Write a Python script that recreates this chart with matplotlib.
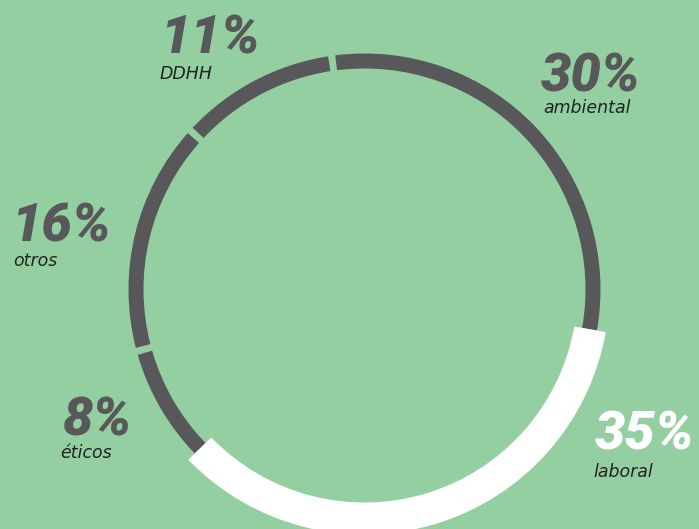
import matplotlib.pyplot as plt
from matplotlib.patches import Wedge

# Data (clockwise from the top)
labels = ['ambiental', 'laboral', 'éticos', 'otros', 'DDHH']
values = [30, 35, 8, 16, 11]
highlight = 'laboral'

# Label positions (pixels, baseline-left)
pct_pos = {'ambiental': (541, 437), 'laboral': (595, 79), 'éticos': (62, 94),
           'otros': (11, 287), 'DDHH': (160, 476)}
name_pos = {'ambiental': (543, 416), 'laboral': (593, 52), 'éticos': (60, 71),
            'otros': (13, 263), 'DDHH': (160, 450)}

bg = '#93cfa0'
gray = '#58585a'
W, H = 699, 529

fig = plt.figure(figsize=(W / 100, H / 100), dpi=100, facecolor=bg)
ax = fig.add_axes([0, 0, 1, 1])
ax.set_xlim(0, W)
ax.set_ylim(0, H)
ax.set_aspect('equal')
ax.axis('off')

center = (364.5, 239.5)
start = 98.0
gap = 1.75
total = sum(values)

angle = start
for i, (lab, v) in enumerate(zip(labels, values)):
    span = 360.0 * v / total
    t1, t2 = angle - span, angle
    angle = t1
    if lab == highlight:
        continue
    prev_lab = labels[i - 1]
    next_lab = labels[(i + 1) % len(labels)]
    if prev_lab != highlight:
        t2 -= gap / 2
    if next_lab != highlight:
        t1 += gap / 2
    ax.add_patch(Wedge(center, 236, t1, t2, width=15, facecolor=gray,
                       edgecolor='none'))

# highlighted segment on top, thicker
angle = start
for lab, v in zip(labels, values):
    span = 360.0 * v / total
    if lab == highlight:
        ax.add_patch(Wedge(center, 245, angle - span, angle, width=32,
                           facecolor='white', edgecolor='none', zorder=3))
    angle -= span

for lab, v in zip(labels, values):
    col = 'white' if lab == highlight else gray
    x, y = pct_pos[lab]
    ax.text(x, y, f'{v}%', family=['Roboto', 'Liberation Sans'], weight=900,
            style='italic', fontsize=39, color=col, ha='left', va='baseline')
    x, y = name_pos[lab]
    ax.text(x, y, lab, family='DejaVu Sans', style='italic', fontsize=12.5,
            color='#222222', ha='left', va='baseline')

fig.savefig('out.png', dpi=100, facecolor=bg)
